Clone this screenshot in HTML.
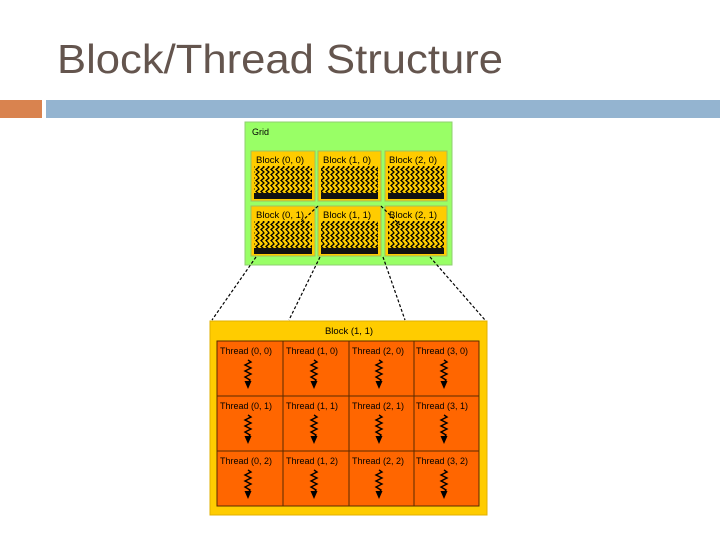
<!DOCTYPE html>
<html><head><meta charset="utf-8"><style>
html,body{margin:0;padding:0;background:#fff;width:720px;height:540px;overflow:hidden}
</style></head><body>
<svg width="720" height="540" viewBox="0 0 720 540" xmlns="http://www.w3.org/2000/svg" font-family="Liberation Sans, sans-serif">
<defs>
<pattern id="sq" x="0" y="0" width="5" height="11" patternUnits="userSpaceOnUse">
<path d="M2.5 0 L4 2 L1 4.5 L4 7 L1 9.5 L2.5 11" fill="none" stroke="#000" stroke-width="1.3"/>
</pattern>
<g id="arr">
<path d="M0 0 L3 2 L-3 5 L3 8 L-3 11 L3 14 L-3 17 L2 20 L0 23" fill="none" stroke="#000" stroke-width="1.4"/>
<path d="M-3.5 21 L3.5 21 L0 29 Z" fill="#000"/>
</g>
</defs>
<text x="57" y="73" font-size="41" fill="#64554E" textLength="446" lengthAdjust="spacingAndGlyphs">Block/Thread Structure</text>
<rect x="0" y="100" width="42" height="18" fill="#D9834F"/>
<rect x="46" y="100" width="674" height="18" fill="#94B4D0"/>

<rect x="245" y="122" width="207" height="143" fill="#99FF66" stroke="#8fcf70" stroke-width="1"/>
<text x="252" y="135" font-size="9" fill="#000">Grid</text>
<g font-size="9.5" fill="#000">
<g stroke="#9fbf60" stroke-width="1">
<rect x="251" y="151" width="64" height="50" fill="#FFCC00"/>
<rect x="318" y="151" width="63" height="50" fill="#FFCC00"/>
<rect x="385" y="151" width="62" height="50" fill="#FFCC00"/>
<rect x="251" y="206" width="64" height="50" fill="#FFCC00"/>
<rect x="318" y="206" width="63" height="50" fill="#FFCC00"/>
<rect x="385" y="206" width="62" height="50" fill="#FFCC00"/>
</g>
<rect x="254" y="166" width="58" height="33" fill="url(#sq)"/>
<rect x="321" y="166" width="57" height="33" fill="url(#sq)"/>
<rect x="388" y="166" width="56" height="33" fill="url(#sq)"/>
<rect x="254" y="221" width="58" height="33" fill="url(#sq)"/>
<rect x="321" y="221" width="57" height="33" fill="url(#sq)"/>
<rect x="388" y="221" width="56" height="33" fill="url(#sq)"/>
<rect x="254" y="193" width="58" height="6" fill="#111"/>
<rect x="321" y="193" width="57" height="6" fill="#111"/>
<rect x="388" y="193" width="56" height="6" fill="#111"/>
<rect x="254" y="248" width="58" height="6" fill="#111"/>
<rect x="321" y="248" width="57" height="6" fill="#111"/>
<rect x="388" y="248" width="56" height="6" fill="#111"/>
<text x="256" y="163">Block (0, 0)</text>
<text x="323" y="163">Block (1, 0)</text>
<text x="389" y="163">Block (2, 0)</text>
<text x="256" y="218">Block (0, 1)</text>
<text x="323" y="218">Block (1, 1)</text>
<text x="389" y="218">Block (2, 1)</text>
</g>

<g stroke="#000" stroke-width="1.2" stroke-dasharray="3,2" fill="none">
<line x1="256" y1="257" x2="212" y2="320"/>
<line x1="320" y1="257" x2="289" y2="320"/>
<line x1="383" y1="257" x2="405" y2="320"/>
<line x1="430" y1="257" x2="485" y2="320"/>
<line x1="318" y1="206" x2="300" y2="223"/>
<line x1="381" y1="206" x2="400" y2="225"/>
</g>

<rect x="210" y="321" width="277" height="194" fill="#FFCC00" stroke="#e0b000"/>
<text x="349" y="334" font-size="9.5" text-anchor="middle" fill="#000">Block (1, 1)</text>
<g stroke="#5a2a00" stroke-width="1" fill="#FF6600">
<rect x="217" y="341" width="66" height="55"/><rect x="283" y="341" width="66" height="55"/><rect x="349" y="341" width="65" height="55"/><rect x="414" y="341" width="65" height="55"/>
<rect x="217" y="396" width="66" height="55"/><rect x="283" y="396" width="66" height="55"/><rect x="349" y="396" width="65" height="55"/><rect x="414" y="396" width="65" height="55"/>
<rect x="217" y="451" width="66" height="55"/><rect x="283" y="451" width="66" height="55"/><rect x="349" y="451" width="65" height="55"/><rect x="414" y="451" width="65" height="55"/>
</g>
<g font-size="9" fill="#000">
<text x="220" y="354">Thread (0, 0)</text><text x="286" y="354">Thread (1, 0)</text><text x="352" y="354">Thread (2, 0)</text><text x="416" y="354">Thread (3, 0)</text>
<text x="220" y="409">Thread (0, 1)</text><text x="286" y="409">Thread (1, 1)</text><text x="352" y="409">Thread (2, 1)</text><text x="416" y="409">Thread (3, 1)</text>
<text x="220" y="464">Thread (0, 2)</text><text x="286" y="464">Thread (1, 2)</text><text x="352" y="464">Thread (2, 2)</text><text x="416" y="464">Thread (3, 2)</text>
</g>
<use href="#arr" x="248" y="360"/><use href="#arr" x="314" y="360"/><use href="#arr" x="379" y="360"/><use href="#arr" x="444" y="360"/>
<use href="#arr" x="248" y="415"/><use href="#arr" x="314" y="415"/><use href="#arr" x="379" y="415"/><use href="#arr" x="444" y="415"/>
<use href="#arr" x="248" y="470"/><use href="#arr" x="314" y="470"/><use href="#arr" x="379" y="470"/><use href="#arr" x="444" y="470"/>
</svg>
</body></html>
